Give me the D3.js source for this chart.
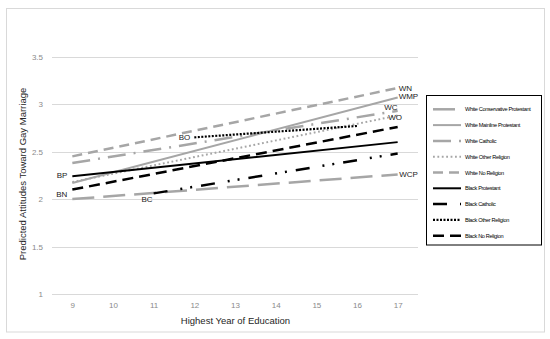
<!DOCTYPE html>
<html>
<head>
<meta charset="utf-8">
<script src="https://cdn.jsdelivr.net/npm/d3@7"></script>
<style>
    body { margin: 0; background: #fff; }
    .grid_line { stroke: #d9d9d9; stroke-width: 1; }
    .tick_text { font-family: 'Liberation Sans', Arial, sans-serif; font-size: 8px; fill: #8a8a8a; }
    .axis_title { font-family: 'Liberation Sans', Arial, sans-serif; font-size: 9.5px; fill: #262626; }
    .line_label { font-family: 'Liberation Sans', Arial, sans-serif; font-size: 8px; fill: #1a1a1a; }
    .legend_text { font-family: 'Liberation Sans Narrow', 'Liberation Sans', sans-serif; font-size: 5.6px; fill: #000; letter-spacing: -0.35px; }
</style>
</head>
<body>
<svg id="chart" width="550" height="339"></svg>
<script>
// 横軸のカテゴリ(教育年数)
const years = [9, 10, 11, 12, 13, 14, 15, 16, 17];
// 縦軸の目盛
const y_ticks = [1, 1.5, 2, 2.5, 3, 3.5];

// 系列
const series_names = [
    'White Conservative Protestant', 'White Mainline Protestant', 'White Catholic',
    'White Other Religion', 'White No Religion', 'Black Protestant',
    'Black Catholic', 'Black Other Religion', 'Black No Religion'
];
const series_short = ['WCP', 'WMP', 'WC', 'WO', 'WN', 'BP', 'BC', 'BO', 'BN'];
const series_start_year = [9, 9, 9, 9, 9, 9, 11, 12, 9];
const series_end_year = [17, 17, 17, 17, 17, 17, 17, 16, 17];
const series_start_value = [2.00, 2.17, 2.38, 2.18, 2.45, 2.24, 2.06, 2.65, 2.10];
const series_end_value = [2.26, 3.07, 2.93, 2.88, 3.17, 2.60, 2.48, 2.77, 2.76];

// 線のスタイル (データとは別)
const GRAY = '#a6a6a6';
const line_styles = [
    {color: GRAY, width: 2.5, dash: '22,9'},
    {color: GRAY, width: 2, dash: null},
    {color: GRAY, width: 2.5, dash: '18,8,2,8'},
    {color: GRAY, width: 2, dash: '1.8,2.6'},
    {color: GRAY, width: 2.5, dash: '10,6'},
    {color: '#000', width: 2, dash: null},
    {color: '#000', width: 2.5, dash: '14,13,2,8,2,9'},
    {color: '#000', width: 2.2, dash: '2,1.5'},
    {color: '#000', width: 2.5, dash: '11,6'}
];
// ラベルの位置: 線の始点/終点からのずれ
const label_pos = [
    {at: 'end', dx: 1.5, dy: 2.5, anchor: 'start'},
    {at: 'end', dx: 1, dy: 1.5, anchor: 'start'},
    {at: 'end', dx: -13.5, dy: -0.5, anchor: 'start'},
    {at: 'end', dx: -9.5, dy: 4.5, anchor: 'start'},
    {at: 'end', dx: 1, dy: 2.5, anchor: 'start'},
    {at: 'start', dx: -5, dy: 2, anchor: 'end'},
    {at: 'start', dx: -1, dy: 8.5, anchor: 'end'},
    {at: 'start', dx: -4, dy: 2.5, anchor: 'end'},
    {at: 'start', dx: -5, dy: 7, anchor: 'end'}
];

const svg = d3.select('#chart');

// 外枠
svg.append('rect')
    .attr('x', 6.5).attr('y', 8.5)
    .attr('width', 538).attr('height', 323.5)
    .attr('fill', '#fff')
    .attr('stroke', '#d9d9d9')
    .attr('stroke-width', 1)
;

const x = d3.scalePoint().domain(years).range([52, 418]).padding(0.5);
const y = d3.scaleLinear().domain([1, 3.5]).range([294, 56.7]);

// 横のグリッド線と目盛
const y_axis = svg.append('g');
y_ticks.forEach(function(t) {
    y_axis.append('line')
        .attr('class', 'grid_line')
        .attr('x1', 52).attr('x2', 418)
        .attr('y1', Math.round(y(t)) + 0.5).attr('y2', Math.round(y(t)) + 0.5)
    ;
    y_axis.append('text')
        .attr('class', 'tick_text')
        .attr('x', 43)
        .attr('y', y(t) + 3)
        .attr('text-anchor', 'end')
        .text(t)
    ;
});

// 横軸の目盛
const x_axis = d3.axisBottom(x).tickSize(0).tickPadding(0);
svg.append('g')
    .attr('transform', 'translate(0,302)')
    .call(x_axis)
    .call(g => g.select('.domain').remove())
    .call(g => g.selectAll('text').attr('class', 'tick_text').attr('fill', null).attr('font-size', null).attr('font-family', null))
;

// 軸タイトル
svg.append('text')
    .attr('class', 'axis_title')
    .attr('x', 235.5).attr('y', 324)
    .attr('text-anchor', 'middle')
    .text('Highest Year of Education')
;
svg.append('text')
    .attr('class', 'axis_title')
    .attr('transform', 'translate(26,174) rotate(-90)')
    .attr('text-anchor', 'middle')
    .text('Predicted Attitudes Toward Gay Marriage')
;

// 系列の線
const line = d3.line().x(d => x(d[0])).y(d => y(d[1]));
const lines_g = svg.append('g');
series_names.forEach(function(name, i) {
    let pts = [
        [series_start_year[i], series_start_value[i]],
        [series_end_year[i], series_end_value[i]]
    ];
    let st = line_styles[i];
    lines_g.append('path')
        .attr('d', line(pts))
        .attr('fill', 'none')
        .attr('stroke', st.color)
        .attr('stroke-width', st.width)
        .attr('stroke-dasharray', st.dash)
    ;
});

// 線のラベル
series_short.forEach(function(s, i) {
    let lp = label_pos[i];
    let yr = (lp.at == 'end') ? series_end_year[i] : series_start_year[i];
    let v = (lp.at == 'end') ? series_end_value[i] : series_start_value[i];
    svg.append('text')
        .attr('class', 'line_label')
        .attr('x', x(yr) + lp.dx)
        .attr('y', y(v) + lp.dy)
        .attr('text-anchor', lp.anchor)
        .text(s)
    ;
});

// 凡例
const legend = svg.append('g');
legend.append('rect')
    .attr('x', 426.5).attr('y', 95.5)
    .attr('width', 115).attr('height', 149.5)
    .attr('fill', '#fff')
    .attr('stroke', '#000')
    .attr('stroke-width', 1)
;
series_names.forEach(function(name, i) {
    let ly = 109.3 + i * 15.8;
    let st = line_styles[i];
    legend.append('line')
        .attr('x1', 433).attr('x2', 461)
        .attr('y1', ly).attr('y2', ly)
        .attr('stroke', st.color)
        .attr('stroke-width', st.width)
        .attr('stroke-dasharray', st.dash)
    ;
    legend.append('text')
        .attr('class', 'legend_text')
        .attr('x', 465)
        .attr('y', ly + 2)
        .text(name)
    ;
});
</script>
</body>
</html>
